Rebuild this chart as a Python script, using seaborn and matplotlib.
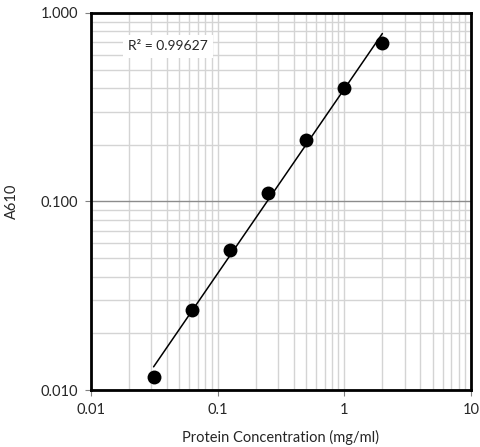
import numpy as np
import pandas as pd
import seaborn as sns
import matplotlib.pyplot as plt
from matplotlib.ticker import LogLocator, FixedLocator, FixedFormatter, NullFormatter

# standard curve data
conc = [0.03125, 0.0625, 0.125, 0.25, 0.5, 1.0, 2.0]
a610 = [0.0117, 0.0266, 0.0553, 0.111, 0.212, 0.40, 0.69]
x_ticks = [0.01, 0.1, 1, 10]
x_labels = ['0.01', '0.1', '1', '10']
y_ticks = [0.01, 0.1, 1]
y_labels = ['0.010', '0.100', '1.000']

sns.set_style('white')
plt.rcParams['font.family'] = ['Lato', 'DejaVu Sans']

df = pd.DataFrame({'conc': conc, 'a610': a610})

# power trendline (linear fit in log-log space)
slope, icpt = np.polyfit(np.log10(df['conc']), np.log10(df['a610']), 1)
fit_x = np.geomspace(min(conc), max(conc), 50)
fit = pd.DataFrame({'conc': fit_x, 'a610': 10 ** (icpt + slope * np.log10(fit_x))})

fig = plt.figure(figsize=(4.81, 4.47), dpi=100)
ax = fig.add_axes([0.189, 0.1275, 0.79, 0.8435])
ax.set_xscale('log')
ax.set_yscale('log')
ax.set_xlim(0.01, 10)
ax.set_ylim(0.01, 1)

# grid
ax.xaxis.set_minor_locator(LogLocator(base=10, subs=np.arange(2, 10)))
ax.yaxis.set_minor_locator(LogLocator(base=10, subs=np.arange(2, 10)))
ax.xaxis.set_minor_formatter(NullFormatter())
ax.yaxis.set_minor_formatter(NullFormatter())
ax.grid(True, which='minor', color='#d4d4d4', linewidth=1.0)
ax.grid(True, which='major', axis='x', color='#d4d4d4', linewidth=1.0)
ax.grid(True, which='major', axis='y', color='#8c8c8c', linewidth=1.0)
ax.set_axisbelow(True)

sns.lineplot(data=fit, x='conc', y='a610', ax=ax, color='black', linewidth=1.1, zorder=3)
sns.scatterplot(data=df, x='conc', y='a610', ax=ax, color='black', s=100,
                edgecolor='black', linewidth=0, zorder=4)

ax.xaxis.set_major_locator(FixedLocator(x_ticks))
ax.xaxis.set_major_formatter(FixedFormatter(x_labels))
ax.yaxis.set_major_locator(FixedLocator(y_ticks))
ax.yaxis.set_major_formatter(FixedFormatter(y_labels))
ax.tick_params(which='major', length=4, width=0.8, color='#808080',
               labelsize=10.5, pad=5, bottom=True, left=True)
ax.tick_params(which='minor', length=0)

for s in ax.spines.values():
    s.set_color('black')
    s.set_linewidth(2)

ax.set_xlabel('Protein Concentration (mg/ml)', fontsize=10.5, labelpad=10)
ax.set_ylabel('A610', fontsize=10.5, labelpad=16)

ax.text(0.203, 0.912, 'R² = 0.99627', transform=ax.transAxes, fontsize=10,
        ha='center', va='center',
        bbox=dict(facecolor='white', edgecolor='none', pad=4))

fig.savefig('out.png', dpi=100)
